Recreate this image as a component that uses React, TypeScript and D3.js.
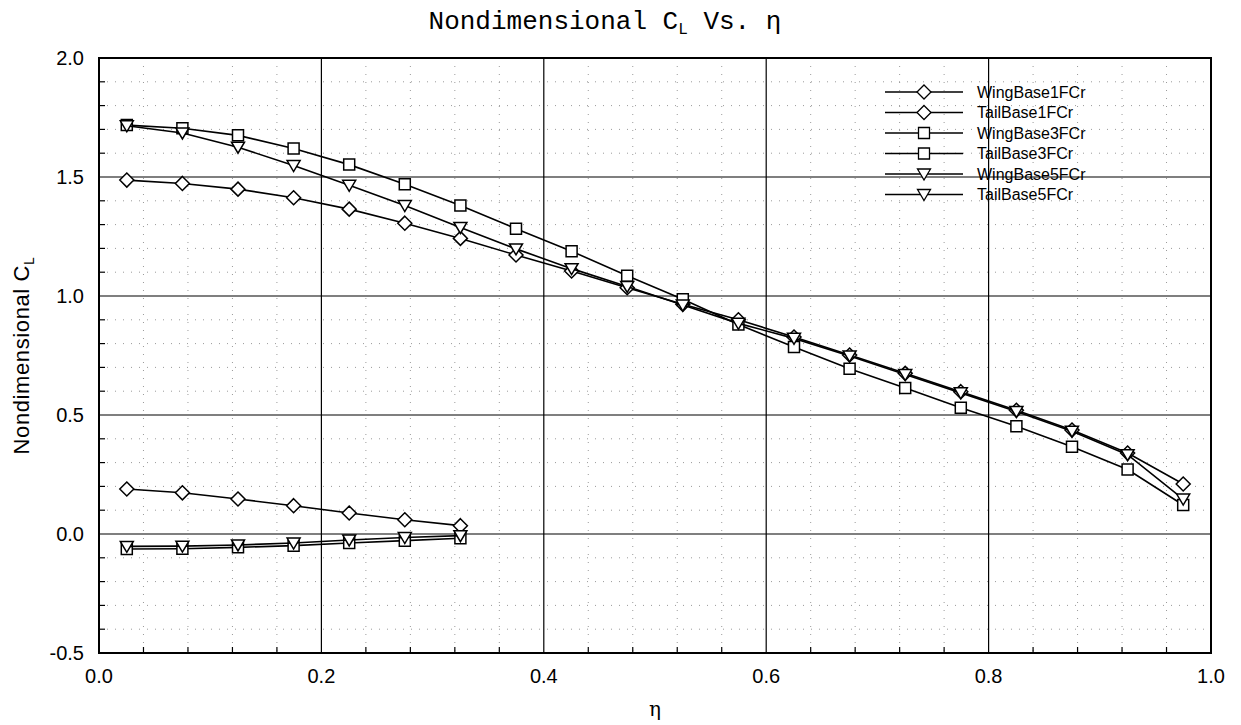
import React from "react";
import * as d3 from "d3";

const eta = [0.025, 0.075, 0.125, 0.175, 0.225, 0.275, 0.325, 0.375, 0.425, 0.475, 0.525, 0.575, 0.625, 0.675, 0.725, 0.775, 0.825, 0.875, 0.925, 0.975];
const etaTail = [0.025, 0.075, 0.125, 0.175, 0.225, 0.275, 0.325];

const wingBase1 = [1.487, 1.473, 1.449, 1.413, 1.365, 1.306, 1.242, 1.172, 1.105, 1.035, 0.965, 0.900, 0.828, 0.752, 0.675, 0.598, 0.520, 0.437, 0.340, 0.210];
const wingBase3 = [1.718, 1.705, 1.675, 1.620, 1.552, 1.470, 1.380, 1.283, 1.188, 1.085, 0.986, 0.880, 0.786, 0.694, 0.613, 0.530, 0.453, 0.367, 0.271, 0.122];
const wingBase5 = [1.715, 1.685, 1.625, 1.548, 1.465, 1.380, 1.288, 1.198, 1.115, 1.040, 0.962, 0.885, 0.822, 0.748, 0.670, 0.593, 0.515, 0.432, 0.333, 0.147];
const tailBase1 = [0.189, 0.173, 0.147, 0.119, 0.088, 0.060, 0.035];
const tailBase3 = [-0.063, -0.062, -0.056, -0.049, -0.038, -0.028, -0.018];
const tailBase5 = [-0.052, -0.051, -0.046, -0.038, -0.025, -0.015, -0.007];

const xTicks = [0, 0.2, 0.4, 0.6, 0.8, 1.0];
const yTicks = [-0.5, 0, 0.5, 1.0, 1.5, 2.0];

type Shape = "diamond" | "square" | "triangle";
const series: { name: string; x: number[]; y: number[]; shape: Shape }[] = [
  { name: "WingBase1FCr", x: eta, y: wingBase1, shape: "diamond" },
  { name: "TailBase1FCr", x: etaTail, y: tailBase1, shape: "diamond" },
  { name: "WingBase3FCr", x: eta, y: wingBase3, shape: "square" },
  { name: "TailBase3FCr", x: etaTail, y: tailBase3, shape: "square" },
  { name: "WingBase5FCr", x: eta, y: wingBase5, shape: "triangle" },
  { name: "TailBase5FCr", x: etaTail, y: tailBase5, shape: "triangle" },
];

const W = 1241, H = 725;
const L = 99, R = 1211, T = 58, B = 653;

const markerPath = (s: Shape) => {
  if (s === "diamond") return "M0,-7L7,0L0,7L-7,0Z";
  if (s === "square") return "M-5.5,-5.5H5.5V5.5H-5.5Z";
  return "M-6.5,-5L6.5,-5L0,6Z";
};

export default function App() {
  const x = d3.scaleLinear().domain([0, 1]).range([L, R]);
  const y = d3.scaleLinear().domain([-0.5, 2]).range([B, T]);
  const xMinor = d3.range(0, 1.0001, 0.04).filter((v) => Math.abs(v / 0.2 - Math.round(v / 0.2)) > 1e-6);
  const yMinor = d3.range(-0.5, 2.0001, 0.1).filter((v) => Math.abs(v / 0.5 - Math.round(v / 0.5)) > 1e-6);
  const line = d3.line<[number, number]>().x((d) => x(d[0])).y((d) => y(d[1]));
  const font = "Liberation Sans, Arial, sans-serif";

  const legX0 = 885, legX1 = 963, legTx = 977, legY0 = 92, legDy = 20.5;

  return (
    <svg width={W} height={H} style={{ position: "absolute", left: 0, top: 0, background: "#fff" }}>
      <rect x={0} y={0} width={W} height={H} fill="#fff" />
      {xMinor.map((v, i) => (
        <line key={"xm" + i} x1={x(v)} x2={x(v)} y1={T} y2={B} stroke="#9a9a9a" strokeWidth={1} strokeDasharray="1,7" />
      ))}
      {yMinor.map((v, i) => (
        <line key={"ym" + i} x1={L} x2={R} y1={y(v)} y2={y(v)} stroke="#9a9a9a" strokeWidth={1} strokeDasharray="1,7" />
      ))}
      {xTicks.map((v, i) => (
        <line key={"xg" + i} x1={x(v)} x2={x(v)} y1={T} y2={B} stroke="#000" strokeWidth={1.2} />
      ))}
      {yTicks.map((v, i) => (
        <line key={"yg" + i} x1={L} x2={R} y1={y(v)} y2={y(v)} stroke="#000" strokeWidth={1.2} />
      ))}
      {xMinor.map((v, i) => (
        <line key={"xt" + i} x1={x(v)} x2={x(v)} y1={B} y2={B - 6} stroke="#000" strokeWidth={1.2} />
      ))}
      {yMinor.map((v, i) => (
        <line key={"yt" + i} x1={L} x2={L + 6} y1={y(v)} y2={y(v)} stroke="#000" strokeWidth={1.2} />
      ))}
      <rect x={L} y={T} width={R - L} height={B - T} fill="none" stroke="#000" strokeWidth={2} />
      {xTicks.map((v, i) => (
        <text key={"xl" + i} x={x(v)} y={B + 30} textAnchor="middle" fontFamily={font} fontSize={20}>
          {v.toFixed(1)}
        </text>
      ))}
      {yTicks.map((v, i) => (
        <text key={"yl" + i} x={L - 15} y={y(v) + 7} textAnchor="end" fontFamily={font} fontSize={20}>
          {v.toFixed(1)}
        </text>
      ))}
      {series.map((s, si) => {
        const pts = s.x.map((v, i) => [v, s.y[i]] as [number, number]);
        return (
          <g key={"s" + si}>
            <path d={line(pts) || ""} fill="none" stroke="#000" strokeWidth={1.6} />
            {pts.map((p, i) => (
              <path key={i} d={markerPath(s.shape)} transform={`translate(${x(p[0])},${y(p[1])})`} fill="#fff" stroke="#000" strokeWidth={1.5} />
            ))}
          </g>
        );
      })}
      {series.map((s, i) => {
        const ly = legY0 + i * legDy;
        return (
          <g key={"lg" + i}>
            <line x1={legX0} x2={legX1} y1={ly} y2={ly} stroke="#000" strokeWidth={1.5} />
            <path d={markerPath(s.shape)} transform={`translate(${(legX0 + legX1) / 2},${ly})`} fill="#fff" stroke="#000" strokeWidth={1.3} />
            <text x={legTx} y={ly + 5.5} fontFamily={font} fontSize={16}>
              {s.name}
            </text>
          </g>
        );
      })}
      <text x={605} y={29} textAnchor="middle" fontFamily="Liberation Mono, Courier New, monospace" fontSize={26}>
        Nondimensional C<tspan fontSize={16} dy={5}>L</tspan>
        <tspan dy={-5}> Vs. η</tspan>
      </text>
      <text transform={`translate(29,${(T + B) / 2}) rotate(-90)`} textAnchor="middle" fontFamily={font} fontSize={22} letterSpacing={0.6}>
        Nondimensional C<tspan fontSize={14} dy={5}>L</tspan>
      </text>
      <text x={(L + R) / 2} y={716} textAnchor="middle" fontFamily="DejaVu Serif, serif" fontSize={20}>
        η
      </text>
    </svg>
  );
}
